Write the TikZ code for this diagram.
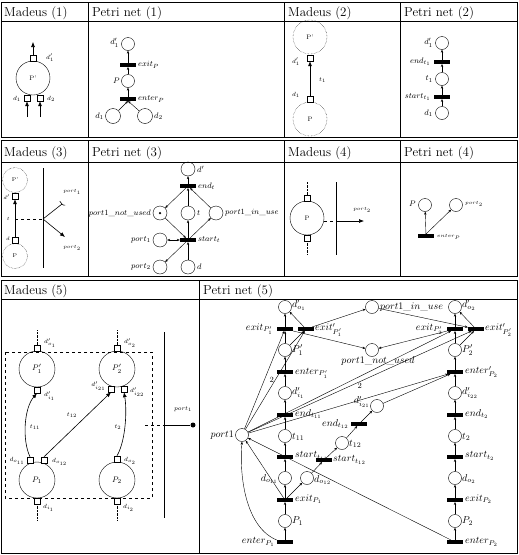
\documentclass[tikz,border=0pt]{standalone}
\usetikzlibrary{arrows.meta,calc}
\begin{document}
\begin{tikzpicture}[x=1pt,y=-1pt,
  hdr/.style={anchor=base west,inner sep=0pt,font=\fontsize{13}{15}\selectfont},
  pl/.style={circle,draw,minimum size=13pt,inner sep=0pt},
  tr/.style={fill=black,minimum width=16pt,minimum height=3.6pt,inner sep=0pt},
  pa/.style={-{Stealth[length=3pt,width=2.4pt]},line width=0.4pt},
  ma/.style={-{Latex[length=5pt,width=4pt]},line width=0.6pt},
  sq/.style={draw,minimum size=6pt,inner sep=0pt,fill=white},
  dcirc/.style={circle,draw,densely dotted,inner sep=0pt},
  mcirc/.style={circle,draw,inner sep=0pt},
  lab/.style={inner sep=1pt},
  fa/.style={font=\fontsize{6.5}{7}\selectfont},
  fb/.style={font=\fontsize{8}{9}\selectfont},
  fc/.style={font=\fontsize{10}{12}\selectfont},
  fd/.style={font=\fontsize{5.5}{6}\selectfont},
]
\useasboundingbox (0,0) rectangle (519,555);
% ---------------- table frames
\draw (1,2) rectangle (517,137);
\draw (1,21) -- (517,21);
\foreach \x in {88,284,400} \draw (\x,2) -- (\x,137);
\draw (1,140) rectangle (517,276);
\draw (1,162) -- (517,162);
\foreach \x in {88,284,400} \draw (\x,140) -- (\x,276);
\draw (1,280) rectangle (517,553);
\draw (1,299) -- (517,299);
\draw (199,280) -- (199,553);
\node[hdr] (h1) at (4,16) {Madeus (1)};
\node[hdr] (h2) at (92,16) {Petri net (1)};
\node[hdr] (h3) at (288,16) {Madeus (2)};
\node[hdr] (h4) at (404,16) {Petri net (2)};
\node[hdr] (h5) at (4,156) {Madeus (3)};
\node[hdr] (h6) at (92,156) {Petri net (3)};
\node[hdr] (h7) at (288,156) {Madeus (4)};
\node[hdr] (h8) at (404,156) {Petri net (4)};
\node[hdr] (h9) at (4,294) {Madeus (5)};
\node[hdr] (h10) at (203,294) {Petri net (5)};

% ---------------- Madeus (1)
\node[mcirc,minimum size=34pt,fa] (m1P) at (33,78) {P'};
\node[sq] (m1q1) at (33,58) {};
\node[sq] (m1q2) at (27,98) {};
\node[sq] (m1q3) at (40,98) {};
\coordinate (m1a) at (33,42);
\coordinate (m1b) at (27,117);
\coordinate (m1c) at (40,117);
\draw[ma] (m1q1) -- (m1a);
\draw[ma] (m1b) -- (m1q2);
\draw[ma] (m1c) -- (m1q3);
\node[lab,fa,anchor=west] (m1l1) at (45,58) {$d'_1$};
\node[lab,fa,anchor=east] (m1l2) at (22,99) {$d_1$};
\node[lab,fa,anchor=west] (m1l3) at (46,99) {$d_2$};

% ---------------- Petri net (1)
\node[pl] (p1d1p) at (128,44) {};
\node[tr] (p1ex) at (128,65) {};
\node[pl] (p1P) at (128,81) {};
\node[tr] (p1en) at (128,99) {};
\node[pl,minimum size=15pt] (p1d1) at (113,116) {};
\node[pl,minimum size=15pt] (p1d2) at (145,116) {};
\draw[pa] (p1P) -- (p1ex);
\draw[pa] (p1ex) -- (p1d1p);
\draw[pa] (p1en) -- (p1P);
\draw[pa] (p1d1) -- (p1en.south);
\draw[pa] (p1d2) -- (p1en.south);
\node[lab,fb,anchor=east] (p1l1) at (120,43) {$d'_1$};
\node[lab,fb,anchor=west] (p1l2) at (137,65) {$exit_P$};
\node[lab,fb,anchor=east] (p1l3) at (121,81) {$P$};
\node[lab,fb,anchor=west] (p1l4) at (137,99) {$enter_P$};
\node[lab,fb,anchor=east] (p1l5) at (105,116) {$d_1$};
\node[lab,fb,anchor=west] (p1l6) at (153,116) {$d_2$};

% ---------------- Madeus (2)
\node[dcirc,minimum size=34pt,fa] (m2Pp) at (310,37) {P'};
\node[dcirc,minimum size=34pt,fa] (m2P) at (310,119) {P};
\node[sq] (m2q1) at (310,58) {};
\node[sq] (m2q2) at (310,99) {};
\draw[ma] (m2q2) -- (m2q1);
\node[lab,fa,anchor=east] (m2l1) at (301,62) {$d'_1$};
\node[lab,fa,anchor=east] (m2l2) at (301,95) {$d_1$};
\node[lab,fa,anchor=west] (m2l3) at (318,80) {$t_1$};

% ---------------- Petri net (2)
\node[pl] (p2d1p) at (442,43) {};
\node[tr] (p2end) at (442,62) {};
\node[pl] (p2t) at (442,79) {};
\node[tr] (p2st) at (442,97) {};
\node[pl] (p2d1) at (442,113) {};
\draw[pa] (p2d1) -- (p2st);
\draw[pa] (p2st) -- (p2t);
\draw[pa] (p2t) -- (p2end);
\draw[pa] (p2end) -- (p2d1p);
\node[lab,fb,anchor=east] (p2l1) at (434,43) {$d'_1$};
\node[lab,fb,anchor=east] (p2l2) at (432,62) {$end_{t_1}$};
\node[lab,fb,anchor=east] (p2l3) at (434,79) {$t_1$};
\node[lab,fb,anchor=east] (p2l4) at (432,97) {$start_{t_1}$};
\node[lab,fb,anchor=east] (p2l5) at (434,113) {$d_1$};

% ---------------- Madeus (3)
\node[dcirc,minimum size=25pt,fd] (m3Pp) at (15,180) {P'};
\node[dcirc,minimum size=25pt,fd] (m3P) at (15,256) {P};
\node[sq] (m3q1) at (15,196) {};
\node[sq] (m3q2) at (15,240) {};
\draw[ma] (m3q2) -- (m3q1);
\coordinate (m3t) at (15,219);
\coordinate (m3j) at (43,219);
\coordinate (m3u) at (62,204);
\coordinate (m3v) at (65,237);
\draw[dashed] (m3t) -- (m3j);
\draw[line width=0.6pt] (43,168) -- (43,268);
\draw[line width=0.6pt] (m3j) -- (m3u);
\draw[line width=0.6pt] ($(m3u)+(-2.2,-2.8)$) .. controls ($(m3u)+(1,1.5)$) .. ($(m3u)+(3.2,1.2)$);
\draw[ma] (m3j) -- (m3v);
\node[lab,fd,anchor=east] (m3l1) at (11,197) {$d'$};
\node[lab,fd,anchor=east] (m3l2) at (11,219) {$t$};
\node[lab,fd,anchor=east] (m3l3) at (11,239) {$d$};
\node[lab,fd] (m3l4) at (72,192) {$port_1$};
\node[lab,fd] (m3l5) at (72,248) {$port_2$};

% ---------------- Petri net (3)
\node[pl,minimum size=14pt] (p3dp) at (188,169) {};
\node[tr] (p3end) at (188,186) {};
\node[pl,minimum size=14pt] (p3nu) at (160,213) {};
\node[circle,fill,inner sep=0pt,minimum size=2.5pt] (p3tok) at (160,213) {};
\node[pl,minimum size=14pt] (p3t) at (188,213) {};
\node[pl,minimum size=14pt] (p3iu) at (216,213) {};
\node[tr] (p3st) at (188,240) {};
\node[pl,minimum size=14pt] (p3p1) at (160,240) {};
\node[pl,minimum size=14pt] (p3p2) at (160,267) {};
\node[pl,minimum size=14pt] (p3d) at (188,267) {};
\draw[pa] (p3d) -- (p3st);
\draw[pa] (p3st) -- (p3t);
\draw[pa] (p3t) -- (p3end);
\draw[pa] (p3end) -- (p3dp);
\draw[pa] (p3nu) -- (p3st);
\draw[pa] (p3st) -- (p3iu);
\draw[pa] (p3iu) -- (p3end);
\draw[pa] (p3end) -- (p3nu);
\draw[{Stealth[length=3pt,width=2.4pt]}-{Stealth[length=3pt,width=2.4pt]},line width=0.4pt] (p3p1) -- (p3st);
\draw[pa] (p3st) -- (p3p2);
\node[lab,fb,anchor=west] (p3l1) at (196,169) {$d'$};
\node[lab,fb,anchor=west] (p3l2) at (197,186) {$end_t$};
\node[lab,fb,anchor=east] (p3l3) at (152,213) {$port1\_not\_used$};
\node[lab,fb,anchor=west] (p3l4) at (196,213) {$t$};
\node[lab,fb,anchor=west] (p3l5) at (224,213) {$port1\_in\_use$};
\node[lab,fb,anchor=west] (p3l6) at (197,240) {$start_t$};
\node[lab,fb,anchor=east] (p3l7) at (152,240) {$port_1$};
\node[lab,fb,anchor=east] (p3l8) at (152,267) {$port_2$};
\node[lab,fb,anchor=west] (p3l9) at (196,267) {$d$};

% ---------------- Madeus (4)
\node[mcirc,minimum size=34pt,fa] (m4P) at (307,218) {P};
\node[sq] (m4q1) at (307,198) {};
\node[sq] (m4q2) at (307,238) {};
\coordinate (m4a) at (307,182);
\coordinate (m4b) at (307,255);
\draw[densely dotted] (m4q1) -- (m4a);
\draw[densely dotted] (m4q2) -- (m4b);
\draw[line width=0.6pt] (336,182) -- (336,255);
\coordinate (m4c) at (324,221);
\coordinate (m4d) at (339,221);
\coordinate (m4e) at (364,221);
\draw[dashed] (m4c) -- (m4d);
\draw[ma] (m4d) -- (m4e);
\node[lab,fd] (m4l) at (362,210) {$port_2$};

% ---------------- Petri net (4)
\node[pl] (p4P) at (425,205) {};
\node[pl] (p4p2) at (456,205) {};
\node[tr] (p4en) at (426,236) {};
\draw[pa] (p4en) -- (p4P);
\draw[pa] (p4en.north) -- (p4p2);
\node[lab,fb,anchor=east] (p4l1) at (417,204) {$P$};
\node[lab,fd,anchor=west] (p4l2) at (464,204) {$port_2$};
\node[lab,fd,anchor=west] (p4l3) at (436,237) {$enter_P$};

% ---------------- Madeus (5)
\draw[dashed,line width=0.6pt] (5,352) rectangle (152,498);
\node[mcirc,minimum size=36pt,fb] (m5P1p) at (37,369) {$P'_1$};
\node[mcirc,minimum size=36pt,fb] (m5P2p) at (117,369) {$P'_2$};
\node[mcirc,minimum size=36pt,fb] (m5P1) at (37,480) {$P_1$};
\node[mcirc,minimum size=36pt,fb] (m5P2) at (117,480) {$P_2$};
\node[sq] (m5do1) at (37,348) {};
\node[sq] (m5di1) at (37,390) {};
\node[sq] (m5do2) at (117,348) {};
\node[sq] (m5di21) at (111,389) {};
\node[sq] (m5di22) at (124,389) {};
\node[sq] (m5do11) at (30,460) {};
\node[sq] (m5do12) at (44,460) {};
\node[sq] (m5dop2) at (117,459) {};
\node[sq] (m5dip1) at (37,501) {};
\node[sq] (m5dip2) at (117,501) {};
\coordinate (m5a) at (37,330);
\coordinate (m5b) at (117,330);
\coordinate (m5c) at (37,520);
\coordinate (m5d) at (117,520);
\draw[densely dotted] (m5do1) -- (m5a);
\draw[densely dotted] (m5do2) -- (m5b);
\draw[densely dotted] (m5dip1) -- (m5c);
\draw[densely dotted] (m5dip2) -- (m5d);
\draw[ma] (m5do11.north) .. controls (22,440) and (24,408) .. (m5di1.south);
\draw[ma] (m5do12.north) -- (m5di21.south);
\draw[ma] (m5dop2.north) .. controls (126,440) and (127,410) .. (m5di22.south);
\node[lab,fa] (m5t11) at (35,427) {$t_{11}$};
\node[lab,fa] (m5t12) at (72,415) {$t_{12}$};
\node[lab,fa] (m5t2) at (118,427) {$t_2$};
\node[lab,fa,anchor=west] (m5l1) at (43,343) {$d'_{o_1}$};
\node[lab,fa,anchor=west] (m5l2) at (43,396) {$d'_{i_1}$};
\node[lab,fa,anchor=west] (m5l3) at (123,343) {$d'_{o_2}$};
\node[lab,fa,anchor=east] (m5l4) at (107,386) {$d'_{i_{21}}$};
\node[lab,fa,anchor=west] (m5l5) at (129,392) {$d'_{i_{22}}$};
\node[lab,fa,anchor=east] (m5l6) at (26,461) {$d_{o_{11}}$};
\node[lab,fa,anchor=west] (m5l7) at (51,462) {$d_{o_{12}}$};
\node[lab,fa,anchor=west] (m5l8) at (123,461) {$d_{o_2}$};
\node[lab,fa,anchor=west] (m5l9) at (42,508) {$d_{i_1}$};
\node[lab,fa,anchor=west] (m5l10) at (122,508) {$d_{i_2}$};
\draw[line width=0.6pt] (164,332) -- (164,518);
\coordinate (m5e) at (145,425);
\coordinate (m5f) at (164,425);
\node[circle,fill,inner sep=0pt,minimum size=5pt] (m5dot) at (193,425) {};
\draw[dashed,line width=0.6pt] (m5e) -- (m5f);
\draw[line width=0.6pt] (m5f) -- (m5dot);
\node[lab,fa] (m5port) at (183,409) {$port_1$};

% ---------------- Petri net (5)
\node[pl] (do1p) at (285,307) {};
\node[tr] (exP1p) at (285,329) {};
\node[tr] (exxP1p) at (306,329) {};
\node[pl] (P1p) at (285,350) {};
\node[tr] (enP1p) at (285,372) {};
\node[pl] (di1p) at (285,393) {};
\node[tr] (endt11) at (285,415) {};
\node[pl] (t11) at (285,436) {};
\node[tr] (st11) at (285,457) {};
\node[pl] (do11) at (285,478) {};
\node[tr] (exP1) at (285,500) {};
\node[pl] (P1) at (285,521) {};
\node[tr] (enP1) at (285,542) {};
\node[pl] (do2p) at (455,307) {};
\node[tr] (exP2p) at (455,329) {};
\node[tr] (exxP2p) at (476,329) {};
\node[pl] (P2p) at (455,350) {};
\node[tr] (enP2p) at (455,372) {};
\node[pl] (di22p) at (455,393) {};
\node[tr] (endt2) at (455,415) {};
\node[pl] (t2) at (455,436) {};
\node[tr] (st2) at (455,457) {};
\node[pl] (do2) at (455,478) {};
\node[tr] (exP2) at (455,500) {};
\node[pl] (P2) at (455,521) {};
\node[tr] (enP2) at (455,542) {};
\node[pl] (port) at (242,435) {};
\node[pl] (inuse) at (372,307) {};
\node[pl] (notused) at (372,350) {};
\node[pl] (do12) at (307,478) {};
\node[tr] (st12) at (324,460) {};
\node[pl] (t12) at (342,443) {};
\node[tr] (endt12) at (359,424) {};
\node[pl] (di21p) at (377,406) {};
% chains
\foreach \a/\b in {enP1/P1,P1/exP1,exP1/do11,do11/st11,st11/t11,t11/endt11,endt11/di1p,di1p/enP1p,enP1p/P1p,P1p/exP1p,exP1p/do1p,
  enP2/P2,P2/exP2,exP2/do2,do2/st2,st2/t2,t2/endt2,endt2/di22p,di22p/enP2p,enP2p/P2p,P2p/exP2p,exP2p/do2p,
  exP1/do12,do12/st12,st12/t12,t12/endt12,endt12/di21p,di21p/enP2p,P1p/exxP1p,exxP1p/do1p,P2p/exxP2p,exxP2p/do2p}
  \draw[pa] (\a) -- (\b);
% port1 arcs
\draw[pa] (enP1.north west) .. controls (247,528) and (239,480) .. (port.south);
\draw[pa] (enP2) -- (port);
\draw[pa] (exP1) -- (port);
\draw[pa] (port) -- (exP1p);
\draw[pa] (port) -- node[pos=0.5,fb,left,inner sep=1pt] (w1) {2} (exxP1p);
\draw[pa] (port) -- (exP2p);
\draw[pa] (port) -- node[pos=0.5,fb,below,inner sep=1pt] (w2) {2} (exxP2p);
\draw[pa] (port) -- (enP2p);
\draw[pa] (exxP1p) -- (inuse);
\draw[pa] (exP1p) -- (notused);
\draw[pa] (inuse) -- (exxP2p);
\draw[pa] (exP2p) -- (notused);
% labels
\begin{scope}[every node/.style={lab,fc}]
\node[anchor=west] (L1) at (291,305) {$d'_{o_1}$};
\node[anchor=east] (L2) at (274,329) {$exit_{P'_1}$};
\node[anchor=west] (L3) at (314,330) {$exit'_{P'_1}$};
\node[anchor=west] (L4) at (291,350) {$P'_1$};
\node[anchor=west] (L5) at (294,373) {$enter_{P'_1}$};
\node[anchor=west] (L6) at (291,393) {$d'_{i_1}$};
\node[anchor=west] (L7) at (294,414) {$end_{t_{11}}$};
\node[anchor=west] (L8) at (291,437) {$t_{11}$};
\node[anchor=west] (L9) at (294,456) {$start_{t_{11}}$};
\node[anchor=east] (L10) at (279,479) {$d_{o_{11}}$};
\node[anchor=west] (L11) at (294,499) {$exit_{P_1}$};
\node[anchor=west] (L12) at (291,521) {$P_1$};
\node[anchor=east] (L13) at (276,542) {$enter_{P_1}$};
\node[anchor=east] (L14) at (235,435) {$port1$};
\node[anchor=west] (L15) at (379,307) {$port1\_in\_use$};
\node[anchor=north] (L16) at (378,355) {$port1\_not\_used$};
\node[anchor=west] (L17) at (313,480) {$d_{o_{12}}$};
\node[anchor=west] (L18) at (332,460) {$start_{t_{12}}$};
\node[anchor=west] (L19) at (348,444) {$t_{12}$};
\node[anchor=east] (L20) at (350,424) {$end_{t_{12}}$};
\node[anchor=east] (L21) at (371,402) {$d'_{i_{21}}$};
\node[anchor=west] (L22) at (461,305) {$d'_{o_2}$};
\node[anchor=east] (L23) at (444,329) {$exit_{P'_2}$};
\node[anchor=west] (L24) at (484,330) {$exit'_{P'_2}$};
\node[anchor=west] (L25) at (461,350) {$P'_2$};
\node[anchor=west] (L26) at (464,372) {$enter'_{P_2}$};
\node[anchor=west] (L27) at (461,393) {$d'_{i_{22}}$};
\node[anchor=west] (L28) at (464,414) {$end_{t_2}$};
\node[anchor=west] (L29) at (461,437) {$t_2$};
\node[anchor=west] (L30) at (464,456) {$start_{t_2}$};
\node[anchor=west] (L31) at (461,479) {$d_{o_2}$};
\node[anchor=west] (L32) at (464,499) {$exit_{P_2}$};
\node[anchor=west] (L33) at (461,521) {$P_2$};
\node[anchor=west] (L34) at (464,542) {$enter_{P_2}$};
\end{scope}
\end{tikzpicture}
\end{document}
